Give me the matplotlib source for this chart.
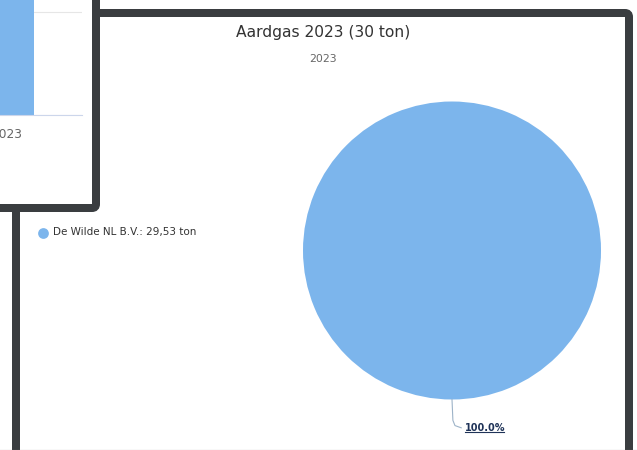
import numpy as np
import matplotlib
matplotlib.use('Agg')
import matplotlib.pyplot as plt
from matplotlib.patches import FancyBboxPatch

# Aardgas 2023 per leverancier (ton)
leveranciers = ['De Wilde NL B.V.']
hoeveelheden = [29.53]
jaar = '2023'

# jaaroverzicht (grafiek erachter, half zichtbaar)
jaren = ['2023']
jaar_totalen = [29.53]

pie_kleur = '#7cb5ec'
rand_kleur = '#3a3d40'

W, H = 637, 450
fig = plt.figure(figsize=(W / 100, H / 100), dpi=100)
fig.patch.set_facecolor('white')

# canvas in pixels voor de panelen
canvas = fig.add_axes([0, 0, 1, 1], zorder=0)
canvas.set_xlim(0, W)
canvas.set_ylim(H, 0)
canvas.axis('off')

lw = 8 * 72 / 100
hoofd = FancyBboxPatch((16, 13), 613, 460, boxstyle='round,pad=0,rounding_size=4',
                       fc='white', ec=rand_kleur, lw=lw, zorder=1)
canvas.add_patch(hoofd)
canvas.axhline(449.5, color='#888888', lw=0.8, zorder=1)

klein = FancyBboxPatch((-60, -60), 156, 268, boxstyle='round,pad=0,rounding_size=4',
                       fc='white', ec=rand_kleur, lw=lw, zorder=3)
canvas.add_patch(klein)

totaal = sum(hoeveelheden)
canvas.text(323, 32.5, f'Aardgas {jaar} ({totaal:.0f} ton)', ha='center', va='center',
            fontsize=11.2, color='#333333', zorder=2)
canvas.text(323, 59, jaar, ha='center', va='center', fontsize=7.8, color='#666666', zorder=2)

# legenda
for i, (naam, waarde) in enumerate(zip(leveranciers, hoeveelheden)):
    y = 232.5 + i * 18
    canvas.scatter([43], [y], s=60, color=pie_kleur, zorder=2, linewidths=0)
    tekst = f'{naam}: ' + f'{waarde:.2f}'.replace('.', ',') + ' ton'
    canvas.text(53, y, tekst, ha='left', va='center', fontsize=7.5, color='#333333', zorder=2)

# taartdiagram
cx, cy, r = 452, 250.5, 149
pie_ax = fig.add_axes([(cx - r) / W, (H - cy - r) / H, 2 * r / W, 2 * r / H], zorder=2)
wedges, _ = pie_ax.pie(hoeveelheden, colors=[pie_kleur], startangle=90, counterclock=False,
                       radius=1, wedgeprops=dict(linewidth=0))
pie_ax.set_xlim(-1, 1)
pie_ax.set_ylim(-1, 1)
pie_ax.set_aspect('equal')
pie_ax.axis('off')

for w, waarde in zip(wedges, hoeveelheden):
    mid = np.deg2rad((w.theta1 + w.theta2) / 2)
    ux, uy = np.cos(mid), np.sin(mid)
    pct = waarde / totaal * 100
    lx, ly = ux * 1.19 + 0.087, uy * 1.19
    pie_ax.plot([ux, ux * 1.14 + 0.006, ux * 1.175 + 0.02, lx - 0.025],
                [uy, uy * 1.14, uy * 1.175, ly], color='#9db3c8', lw=0.8,
                clip_on=False)
    pie_ax.text(lx, ly, f'{pct:.1f}%', ha='left', va='center', fontsize=7,
                fontweight='bold', color='#1f3358', clip_on=False)
    pie_ax.plot([lx, lx + 0.262], [ly - 0.03, ly - 0.03], color='#1f3358', lw=0.8,
                clip_on=False)

# staafdiagram in het achterste paneel
bx0, bx1, by0, by1 = -60, 82, 115, -200
bar_ax = fig.add_axes([bx0 / W, (H - by0) / H, (bx1 - bx0) / W, (by0 - by1) / H], zorder=4)
bar_ax.bar(jaren, jaar_totalen, width=0.38, color=pie_kleur, zorder=2)
bar_ax.set_xlim(-0.472, 0.528)
bar_ax.set_ylim(0, 61.2)
bar_ax.set_yticks([0, 20, 40, 60])
bar_ax.yaxis.grid(True, color='#e6e6e6', lw=0.8)
bar_ax.set_yticklabels([])
bar_ax.tick_params(axis='y', length=0)
bar_ax.tick_params(axis='x', length=0, pad=9, labelsize=8.8, labelcolor='#666666')
for s in ['top', 'right', 'left']:
    bar_ax.spines[s].set_visible(False)
bar_ax.spines['bottom'].set_color('#ccd6eb')
bar_ax.set_facecolor('none')

fig.savefig('out.png', dpi=100)
